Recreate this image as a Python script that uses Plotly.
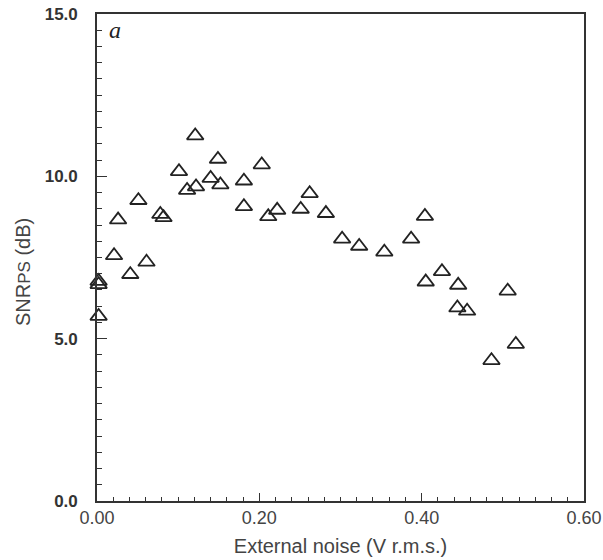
import plotly.graph_objects as go

# External noise (V r.m.s.) and SNR_PS (dB)
noise = [0.002, 0.002, 0.002, 0.021, 0.026, 0.041, 0.051, 0.061, 0.078, 0.082,
         0.101, 0.111, 0.121, 0.122, 0.140, 0.149, 0.152, 0.181, 0.181, 0.203,
         0.211, 0.222, 0.251, 0.262, 0.282, 0.302, 0.323, 0.354, 0.387, 0.404,
         0.405, 0.425, 0.445, 0.444, 0.456, 0.486, 0.506, 0.516]
snr = [6.77, 6.67, 5.69, 7.56, 8.66, 6.98, 9.26, 7.36, 8.83, 8.73,
       10.15, 9.57, 11.25, 9.68, 9.94, 10.53, 9.74, 9.86, 9.07, 10.36,
       8.76, 8.96, 8.99, 9.47, 8.86, 8.07, 7.85, 7.67, 8.07, 8.77,
       6.75, 7.07, 6.65, 5.95, 5.85, 4.33, 6.47, 4.83]

x_ticks = [0.0, 0.2, 0.4, 0.6]
y_ticks = [0.0, 5.0, 10.0, 15.0]

AX = "#333333"
FONT = "Liberation Sans, Arial, sans-serif"

fig = go.Figure()
fig.add_trace(go.Scatter(
    x=noise, y=snr, mode="markers", cliponaxis=False,
    marker=dict(symbol="triangle-up-open", size=14.5, color="#222222",
                line=dict(width=1.8, color="#222222")),
    showlegend=False,
))

fig.update_layout(
    width=603, height=560,
    margin=dict(l=97, r=19, t=14, b=59),
    paper_bgcolor="white", plot_bgcolor="white",
    font=dict(family=FONT, color="#333333"),
    xaxis=dict(
        range=[0, 0.6], tickvals=x_ticks, tickformat=".2f", automargin=False,
        ticks="inside", ticklen=8, tickwidth=1.3, tickcolor=AX,
        minor=dict(dtick=0.02, ticks="inside", ticklen=4, tickwidth=1.2, tickcolor=AX),
        showline=True, linecolor=AX, linewidth=1.6, mirror=True,
        showgrid=False, zeroline=False,
        tickfont=dict(size=18, color="#444444"),
        title=dict(text="External noise (V r.m.s.)", font=dict(size=20, color="#444444"), standoff=12),
    ),
    yaxis=dict(
        range=[0, 15], tickvals=y_ticks, tickformat=".1f", automargin=False,
        ticks="inside", ticklen=10, tickwidth=1.3, tickcolor=AX,
        minor=dict(dtick=0.5, ticks="inside", ticklen=5, tickwidth=1.2, tickcolor=AX),
        showline=True, linecolor=AX, linewidth=1.6, mirror=True,
        showgrid=False, zeroline=False,
        tickfont=dict(size=17, color="#333333", weight="bold"),
        ticklabelstandoff=14,
    ),
    annotations=[
        dict(
            text="a", x=0.02, y=0.997, xref="paper", yref="paper",
            xanchor="left", yanchor="top", showarrow=False,
            font=dict(family="Liberation Serif, Times New Roman, serif", size=24,
                      style="italic", color="#222222"),
        ),
        dict(
            text="SNR<span style='font-size:17px'>PS</span> (dB)",
            x=-0.152, y=0.47, xref="paper", yref="paper", textangle=-90,
            xanchor="center", yanchor="middle", showarrow=False,
            font=dict(size=20, color="#444444"),
        ),
    ],
)

fig.write_html("out.html")
